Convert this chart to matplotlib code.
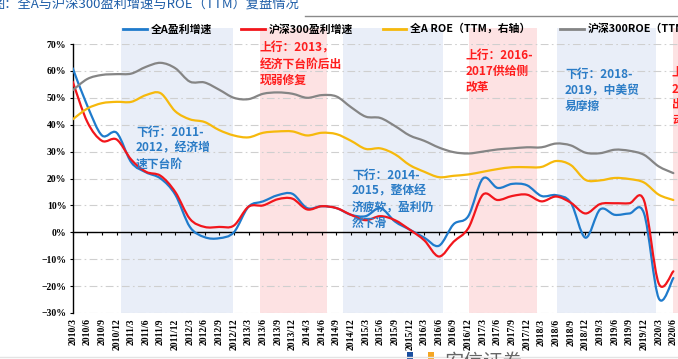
import matplotlib
matplotlib.use('Agg')
import matplotlib.pyplot as plt
from matplotlib.path import Path
from matplotlib.patches import PathPatch, Rectangle
from matplotlib.lines import Line2D
from matplotlib.ticker import PercentFormatter, MultipleLocator

plt.rcParams['font.family'] = ['Noto Sans CJK SC', 'DejaVu Sans']

quarters = ['2010/3', '2010/6', '2010/9', '2010/12', '2011/3', '2011/6', '2011/9', '2011/12',
            '2012/3', '2012/6', '2012/9', '2012/12', '2013/3', '2013/6', '2013/9', '2013/12',
            '2014/3', '2014/6', '2014/9', '2014/12', '2015/3', '2015/6', '2015/9', '2015/12',
            '2016/3', '2016/6', '2016/9', '2016/12', '2017/3', '2017/6', '2017/9', '2017/12',
            '2018/3', '2018/6', '2018/9', '2018/12', '2019/3', '2019/6', '2019/9', '2019/12',
            '2020/3', '2020/6']

# 盈利增速 (%), left axis
all_a_growth = [61, 47, 36, 37, 26, 22.3, 20, 14, 2, -1.8, -2.2, 0, 9.5, 11.5, 13.8, 14.3,
                9, 9.7, 9, 6.5, 6, 9, 4, 1, -2, -5, 3, 6, 20, 16.5, 18, 17.5,
                13.5, 13.8, 11, -2, 8.5, 6.5, 7, 7, -24.5, -17]
hs300_growth = [56, 41, 34, 34.5, 27, 22.5, 21, 15, 5, 2, 2, 2.5, 9.5, 10, 12.3, 12.5,
                8.5, 9.7, 9, 6.5, 4.5, 6, 4.5, 1, -3, -9, -3.5, 1.5, 14, 12, 13.5, 14,
                11.5, 13.3, 11, 7, 10.5, 10.8, 10.8, 11.8, -19, -14.5]
# ROE TTM (%), right axis
all_a_roe = [14.4, 15.2, 15.6, 15.7, 15.7, 16.2, 16.34, 15.0, 14.4, 14.2, 13.6, 13.2, 13.06, 13.4,
             13.5, 13.5, 13.2, 13.4, 13.3, 12.8, 12.2, 12.24, 11.8, 11.0, 10.5, 10.1, 10.2, 10.3,
             10.5, 10.7, 10.84, 10.84, 10.86, 11.3, 11.0, 9.9, 9.86, 10.04, 9.96, 9.7, 8.8, 8.4]
hs300_roe = [16.56, 17.4, 17.7, 17.76, 17.8, 18.3, 18.6, 18.2, 17.2, 17.14, 16.6, 16.0, 15.9, 16.3,
             16.4, 16.3, 16.0, 16.2, 16.1, 15.3, 14.6, 14.5, 13.9, 13.2, 12.8, 12.3, 11.96, 11.86,
             12.0, 12.16, 12.24, 12.32, 12.32, 12.6, 12.46, 11.92, 11.88, 12.14, 12.06, 11.76, 10.9, 10.4]

series_names = ['全A盈利增速', '沪深300盈利增速', '全A ROE（TTM，右轴）', '沪深300ROE（TTM，右轴）']

# shaded phases (start, end in quarter index units), kind
phase_start = [3.3, 12.8, 18.47, 27.07, 33.04, 40.96]
phase_end = [10.92, 17.36, 25.26, 31.67, 39.8, 43.0]
phase_kind = ['down', 'up', 'down', 'up', 'down', 'up']
phase_text = ['下行：2011-\n2012，经济增\n速下台阶',
              '上行：2013，\n经济下台阶后出\n现弱修复',
              '下行：2014-\n2015，整体经\n济疲软，盈利仍\n然下滑',
              '上行：2016-\n2017供给侧\n改革',
              '下行：2018-\n2019，中美贸\n易摩擦',
              '上行：\n2020，疫情\n出清后经济\n动能修复']

W, H = 678, 359
fig = plt.figure(figsize=(W / 100, H / 100), dpi=100)
step = 14.65
ax = fig.add_axes([72.7 / W, 46 / H, 42 * step / W, 269 / H])
ax2 = ax.twinx()

BLUE = '#1f7bcc'
RED = '#f2161c'
GOLD = '#f6b90c'
GREY = '#858585'


def smooth_path(xs, ys):
    pts = list(zip(xs, ys))
    n = len(pts)
    verts = [pts[0]]
    codes = [Path.MOVETO]
    for i in range(n - 1):
        p0 = pts[i - 1] if i > 0 else pts[i]
        p1 = pts[i]
        p2 = pts[i + 1]
        p3 = pts[i + 2] if i + 2 < n else pts[i + 1]
        c1 = (p1[0] + (p2[0] - p0[0]) / 6, p1[1] + (p2[1] - p0[1]) / 6)
        c2 = (p2[0] - (p3[0] - p1[0]) / 6, p2[1] - (p3[1] - p1[1]) / 6)
        verts += [c1, c2, p2]
        codes += [Path.CURVE4] * 3
    return Path(verts, codes)


xs = list(range(len(quarters)))

# bands
for s, e, k in zip(phase_start, phase_end, phase_kind):
    ax.axvspan(s, e, ymin=0, ymax=1.06, facecolor='#e9eef8' if k == 'down' else '#fde2e3',
               edgecolor='none', zorder=0.2, clip_on=False)

# grid
ax.set_axisbelow(True)
ax.yaxis.grid(True, color='#cfcfcf', lw=0.8, dashes=(7, 3, 1.5, 3))
ax.xaxis.grid(False)

for vals, col in [(all_a_growth, BLUE), (hs300_growth, RED)]:
    ax.add_patch(PathPatch(smooth_path(xs, [v / 100 for v in vals]), fill=False,
                           edgecolor=col, lw=1.6, zorder=3, joinstyle='round', capstyle='round'))
for vals, col in [(all_a_roe, GOLD), (hs300_roe, GREY)]:
    ax2.add_patch(PathPatch(smooth_path(xs, [v / 100 for v in vals]), fill=False,
                            edgecolor=col, lw=1.6, zorder=3, joinstyle='round', capstyle='round'))

ax.set_xlim(0, 42)
ax.set_ylim(-0.30, 0.70)
ax2.set_ylim(0.0, 0.20)

ax.spines['bottom'].set_position(('data', 0))
ax.spines['bottom'].set_color('black')
ax.spines['bottom'].set_linewidth(1.0)
ax.spines['left'].set_color('black')
ax.spines['left'].set_linewidth(1.0)
ax.spines['top'].set_visible(False)
ax.spines['right'].set_visible(False)
ax.tick_params(axis='x', direction='out', length=2.5, width=0.8, pad=59.5, color='black',
               labelrotation=90, labelsize=7)
ax.tick_params(axis='y', direction='out', length=2.5, width=0.8, pad=2, color='black',
               labelsize=7)

ax.yaxis.set_major_locator(MultipleLocator(0.1))
ax.yaxis.set_major_formatter(PercentFormatter(xmax=1, decimals=0))
ax.set_xticks(xs)
ax.set_xticklabels(quarters, rotation=90, fontfamily='Liberation Serif', fontweight='bold',
                   fontsize=7, va='top', ha='center')
for lab in ax.get_yticklabels():
    lab.set_fontfamily('Liberation Serif')
    lab.set_fontweight('bold')
    lab.set_fontsize(7)

for sp in ax2.spines.values():
    sp.set_visible(False)
ax2.tick_params(right=False, labelright=False)

# legend
handles = [Line2D([], [], color=c, lw=2) for c in (BLUE, RED, GOLD, GREY)]
fig.legend(handles, series_names, loc='center left', bbox_to_anchor=(123 / W, 1 - 29 / H),
           ncol=4, frameon=False, borderpad=0, borderaxespad=0, handlelength=2.2,
           handletextpad=0.35, columnspacing=2.7,
           prop={'family': ['Noto Sans CJK SC', 'DejaVu Sans'], 'weight': 'bold', 'size': 7.8})

# annotations
ann_pos = [(136, 126), (260, 42), (352, 169), (466, 49), (565, 68), (672, 66)]
for (px, py), txt, k in zip(ann_pos, phase_text, phase_kind):
    fig.text(px / W, 1 - py / H, txt, ha='left', va='top', fontsize=8.5, fontweight='bold',
             color='#2b7cc6' if k == 'down' else '#ff1d1d', linespacing=1.3, zorder=10)

# title and frame lines
fig.text(-8 / W, 1 - 5 / H, '图：全A与沪深300盈利增速与ROE（TTM）复盘情况', ha='left', va='center',
         fontsize=9.5, color='#1f5ea8')
fig.add_artist(Line2D([305 / W, 1], [1 - 16 / H, 1 - 16 / H], color='#8a8a8a', lw=1.0))
fig.add_artist(Line2D([0, 1], [1 - 357 / H, 1 - 357 / H], color='#e4e4e4', lw=1.0))
fig.add_artist(Rectangle((407 / W, 0), 6 / W, 7 / H, color='#1a4fa0', lw=0))
fig.add_artist(Rectangle((428 / W, 0), 6 / W, 7 / H, color='#f5a623', lw=0))
fig.text(445 / W, 1 - 352 / H, '安信证券', ha='left', va='top', fontsize=14, color='#666666')

fig.savefig('out.png', dpi=100)
